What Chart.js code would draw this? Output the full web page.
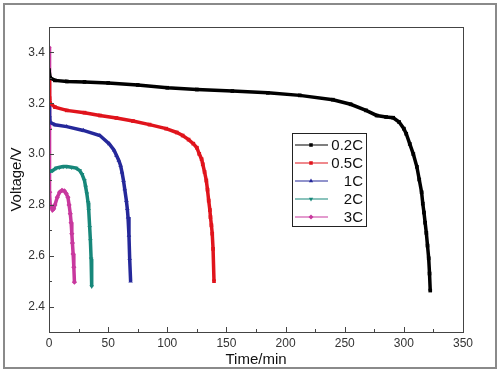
<!DOCTYPE html>
<html>
<head>
<meta charset="utf-8">
<script src="https://cdn.jsdelivr.net/npm/chart.js@4.4.0/dist/chart.umd.min.js"></script>
<style>
  html, body { margin: 0; padding: 0; background: #fff; }
  #wrap { width: 503px; height: 373px; }
</style>
</head>
<body>
<div id="wrap"><canvas id="descarga"></canvas></div>
<script>
/* curvas de descarga a diferentes taxas */

const labels_series = ['0.2C', '0.5C', '1C', '2C', '3C'];

const tempo_02 = [0, 1, 5, 15, 30, 50, 75, 100, 125, 155, 185, 212, 240, 255, 268, 277, 285, 291, 296, 300, 302, 305, 308, 311, 313, 315, 316, 317, 318, 319, 320, 321, 321.7, 322.3];
const volt_02 = [3.33, 3.30, 3.29, 3.286, 3.284, 3.280, 3.272, 3.261, 3.254, 3.248, 3.241, 3.231, 3.214, 3.196, 3.172, 3.152, 3.146, 3.143, 3.126, 3.10, 3.08, 3.04, 3.00, 2.95, 2.90, 2.85, 2.805, 2.77, 2.73, 2.69, 2.64, 2.59, 2.53, 2.463];

const tempo_05 = [0, 0.5, 1, 5, 15, 30, 43, 57, 71, 85, 99, 108, 113, 118, 122, 125, 127, 129, 130, 131.5, 133, 134, 135, 136, 136.5, 137.3, 138, 138.7, 139.5];
const volt_05 = [3.30, 3.22, 3.20, 3.185, 3.172, 3.163, 3.152, 3.142, 3.13, 3.116, 3.10, 3.085, 3.073, 3.057, 3.041, 3.025, 3.001, 2.98, 2.96, 2.93, 2.896, 2.86, 2.817, 2.78, 2.752, 2.72, 2.687, 2.627, 2.50];

const tempo_1 = [0, 0.5, 1, 5, 15, 29, 43, 51, 55, 57, 59, 60.5, 61.7, 63, 64, 65.4, 66.2, 66.8, 67.6, 68.2, 69];
const volt_1 = [3.20, 3.15, 3.125, 3.115, 3.108, 3.093, 3.073, 3.04, 3.015, 2.995, 2.975, 2.955, 2.929, 2.895, 2.863, 2.817, 2.785, 2.752, 2.68, 2.588, 2.50];

const tempo_2 = [0, 3, 6, 9, 12, 15, 19, 23, 26, 28, 30, 31, 32, 33, 33.6, 34.4, 35, 35.6, 36.1];
const volt_2 = [2.93, 2.935, 2.945, 2.948, 2.951, 2.951, 2.948, 2.945, 2.935, 2.92, 2.896, 2.87, 2.844, 2.81, 2.778, 2.712, 2.66, 2.588, 2.479];

const tempo_3 = [0, 0.3, 0.6, 1, 2, 3, 4, 5, 7, 9, 11, 13, 14.5, 16, 17, 18, 18.7, 19.3, 19.8, 20.4, 21, 21.5];
const volt_3 = [3.42, 3.1, 2.85, 2.8, 2.79, 2.78, 2.785, 2.80, 2.83, 2.85, 2.857, 2.855, 2.845, 2.83, 2.80, 2.765, 2.73, 2.687, 2.65, 2.607, 2.555, 2.496];

const ticks_x = [0, 50, 100, 150, 200, 250, 300, 350];
const ticks_y = [2.4, 2.6, 2.8, 3.0, 3.2, 3.4];

const cores = ['#000000', '#e0141c', '#25289a', '#17877a', '#c8389e'];
const marcadores = ['rect', 'rect', 'triangle', 'triangle', 'rectRot'];
const rotacoes = [0, 0, 0, 180, 0];

function pontos(t, v) {
    return t.map((x, i) => ({ x: x, y: v[i] }));
}

const series = [
    pontos(tempo_02, volt_02),
    pontos(tempo_05, volt_05),
    pontos(tempo_1, volt_1),
    pontos(tempo_2, volt_2),
    pontos(tempo_3, volt_3)
];

const data_descarga = {
    datasets: series.map((s, i) => ({
        label: labels_series[i],
        data: s,
        showLine: true,
        borderColor: cores[i],
        backgroundColor: cores[i],
        borderWidth: 3.5,
        pointStyle: marcadores[i],
        rotation: rotacoes[i],
        pointRadius: 2.6,
        pointBorderWidth: 0
    }))
};

// moldura, ticks para dentro, legenda em caixa
const plugin_moldura = {
    id: 'moldura',
    afterDraw(chart) {
        const ctx = chart.ctx;
        const a = chart.chartArea;
        const sx = chart.scales.x, sy = chart.scales.y;
        ctx.save();
        ctx.strokeStyle = '#8a8a8a';
        ctx.lineWidth = 2;
        ctx.strokeRect(4, 4, 492, 364);

        ctx.strokeStyle = '#444';
        ctx.lineWidth = 1;
        ctx.strokeRect(a.left + 0.5, a.top + 0.5, a.right - a.left, a.bottom - a.top);
        ctx.beginPath();
        for (let t = 0; t <= 350; t += 25) {
            const px = Math.round(sx.getPixelForValue(t)) + 0.5;
            const len = (t % 50 === 0) ? 5 : 3;
            ctx.moveTo(px, a.bottom);
            ctx.lineTo(px, a.bottom - len);
        }
        for (let k = 23; k <= 35; k++) {
            const v = k / 10;
            const py = Math.round(sy.getPixelForValue(v)) + 0.5;
            const len = (k % 2 === 0) ? 5 : 3;
            ctx.moveTo(a.left, py);
            ctx.lineTo(a.left + len, py);
        }
        ctx.stroke();

        // legenda
        const bx = 292, by = 133, bw = 74, bh = 93;
        ctx.fillStyle = '#fff';
        ctx.fillRect(bx, by, bw, bh);
        ctx.strokeStyle = '#222';
        ctx.strokeRect(bx + 0.5, by + 0.5, bw, bh);
        ctx.font = '15px "Liberation Sans", Arial, sans-serif';
        ctx.textAlign = 'right';
        ctx.textBaseline = 'middle';
        chart.data.datasets.forEach((ds, i) => {
            const y = 145 + i * 18;
            ctx.strokeStyle = ds.borderColor;
            ctx.lineWidth = 1.2;
            ctx.beginPath();
            ctx.moveTo(295, y);
            ctx.lineTo(328, y);
            ctx.stroke();
            ctx.fillStyle = ds.borderColor;
            Chart.helpers.drawPoint(ctx, { pointStyle: ds.pointStyle, rotation: ds.rotation, radius: 2.5, borderWidth: 0 }, 311, y);
            ctx.fillStyle = '#111';
            ctx.fillText(ds.label, 363, y + 1);
        });
        ctx.restore();
    }
};

const config_descarga = {
    type: 'scatter',
    data: data_descarga,
    options: {
        responsive: true,
        maintainAspectRatio: false,
        animation: false,
        layout: { padding: { left: 0, top: 27, right: 40, bottom: 0 } },
        plugins: { legend: { display: false }, tooltip: { enabled: false } },
        scales: {
            x: {
                type: 'linear',
                min: 0,
                max: 350,
                grid: { display: false, drawTicks: false },
                border: { display: false },
                afterBuildTicks(scale) { scale.ticks = ticks_x.map(v => ({ value: v })); },
                afterFit(scale) { scale.height = 41; },
                ticks: { color: '#333', padding: 4, font: { size: 12, family: '"Liberation Sans", Arial, sans-serif' } },
                title: { display: true, text: 'Time/min', color: '#111', padding: { top: 0, bottom: 4 }, font: { size: 15, family: '"Liberation Sans", Arial, sans-serif' } }
            },
            y: {
                type: 'linear',
                min: 2.3,
                max: 3.5,
                grid: { display: false, drawTicks: false },
                border: { display: false },
                afterBuildTicks(scale) { scale.ticks = ticks_y.map(v => ({ value: v })); },
                afterFit(scale) { scale.width = 49; },
                ticks: { color: '#333', padding: 4, font: { size: 12, family: '"Liberation Sans", Arial, sans-serif' }, callback: v => v.toFixed(1) },
                title: { display: true, text: 'Voltage/V', color: '#111', padding: { top: 8, bottom: 0 }, font: { size: 15, family: '"Liberation Sans", Arial, sans-serif' } }
            }
        }
    },
    plugins: [plugin_moldura]
};

const grafico_descarga = new Chart(document.getElementById('descarga'), config_descarga);
</script>
</body>
</html>
